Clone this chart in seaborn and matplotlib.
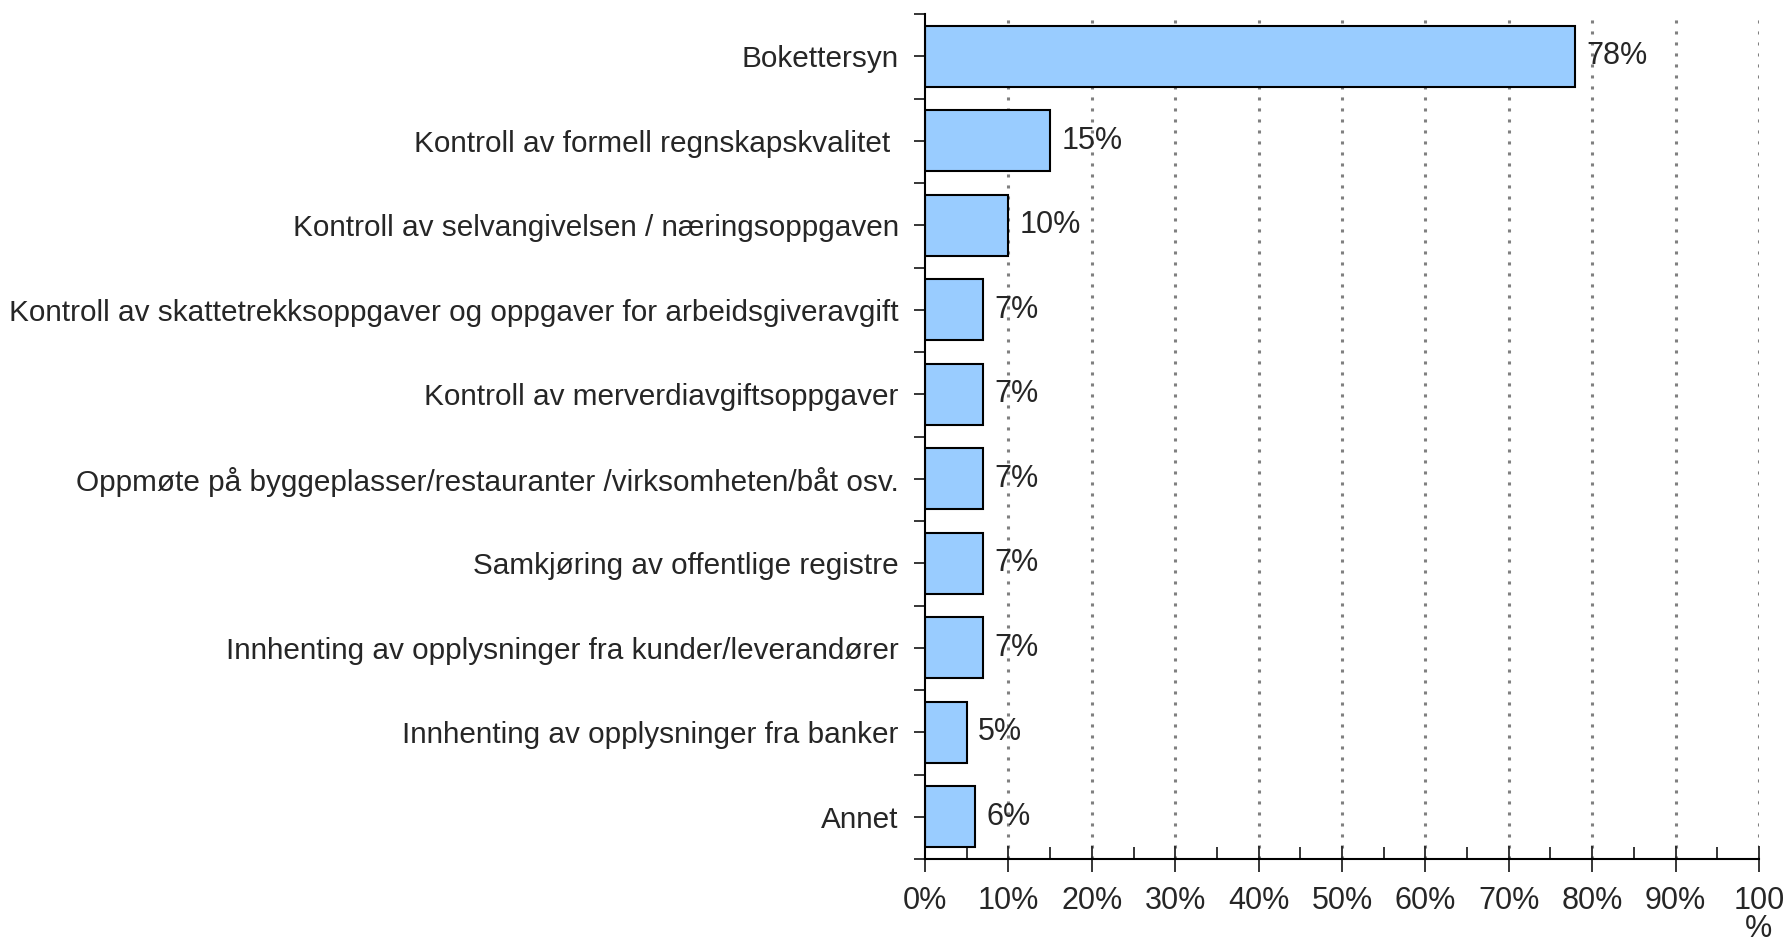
import numpy as np
import pandas as pd
import seaborn as sns
import matplotlib.pyplot as plt
from matplotlib.ticker import MultipleLocator, FixedLocator

categories = [
    "Bokettersyn",
    "Kontroll av formell regnskapskvalitet ",
    "Kontroll av selvangivelsen / næringsoppgaven",
    "Kontroll av skattetrekksoppgaver og oppgaver for arbeidsgiveravgift",
    "Kontroll av merverdiavgiftsoppgaver",
    "Oppmøte på byggeplasser/restauranter /virksomheten/båt osv.",
    "Samkjøring av offentlige registre",
    "Innhenting av opplysninger fra kunder/leverandører",
    "Innhenting av opplysninger fra banker",
    "Annet",
]
values = [78, 15, 10, 7, 7, 7, 7, 7, 5, 6]
xtick_labels = ["0%", "10%", "20%", "30%", "40%", "50%", "60%", "70%", "80%", "90%", "100\n%"]

sns.set_style("white")
plt.rcParams['font.family'] = ['Liberation Sans', 'DejaVu Sans']

df = pd.DataFrame({"kategori": categories, "andel": values})

fig = plt.figure(figsize=(17.91, 9.43), dpi=100)
ax = fig.add_axes([0.5165, 0.089, 0.9821 - 0.5165, 0.896])

sns.barplot(data=df, y="kategori", x="andel", orient="h", color="#99CCFF",
            saturation=1, edgecolor="black", linewidth=1.5, width=0.72, ax=ax)

ax.set_xlim(0, 100)
ax.set_ylim(len(categories) - 0.5, -0.5)
ax.set_xlabel("")
ax.set_ylabel("")

# dotted vertical grid
for xv in range(10, 101, 10):
    ax.axvline(xv, color="#808080", linestyle=(0, (1, 2.6)), linewidth=2.2, zorder=0)

ax.xaxis.set_minor_locator(MultipleLocator(5))
ax.set_xticks(range(0, 101, 10))
ax.set_xticklabels(xtick_labels, fontsize=22, linespacing=0.92)
ax.tick_params(axis="x", which="major", direction="inout", length=19, width=1.3, pad=10)
ax.tick_params(axis="x", which="minor", direction="in", length=9, width=1.3)
ax.tick_params(axis="x", which="both", bottom=True)

ax.yaxis.set_minor_locator(FixedLocator(np.arange(-0.5, len(categories), 1)))
ax.tick_params(axis="y", which="both", direction="out", length=8, width=1.3, left=True)
ax.tick_params(axis="y", which="major", labelsize=21.4, pad=11)

for s in ["top", "right"]:
    ax.spines[s].set_visible(False)
for s in ["left", "bottom"]:
    ax.spines[s].set_linewidth(1.5)
    ax.spines[s].set_color("black")

for cont in ax.containers:
    ax.bar_label(cont, labels=[f"{v}%" for v in values], padding=8, fontsize=22)

fig.savefig("out.png", dpi=100)
